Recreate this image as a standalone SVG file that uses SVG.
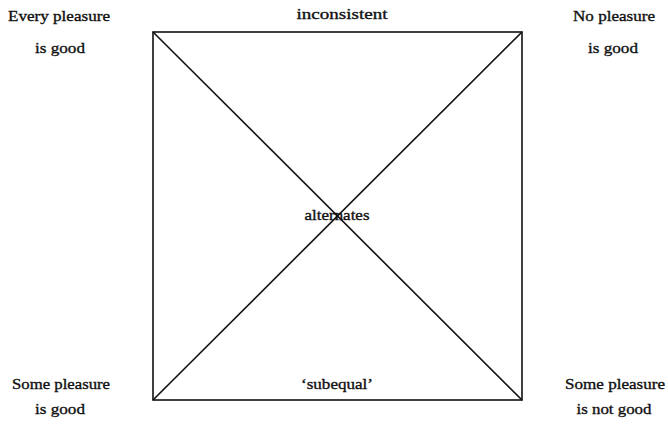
<svg xmlns="http://www.w3.org/2000/svg" width="668" height="425" viewBox="0 0 668 425">
<style>
text{font-family:"Liberation Serif","Times New Roman",serif;font-size:15px;fill:#111;stroke:#111;stroke-width:0.35;text-anchor:middle}
.ln{stroke:#111;stroke-width:1.6;fill:none}
</style>
<rect width="668" height="425" fill="#fff"/>
<g id="connectors">
<rect class="ln" x="153" y="32" width="369" height="368"/>
<line class="ln" x1="153" y1="32" x2="522" y2="400"/>
<line class="ln" x1="522" y1="32" x2="153" y2="400"/>
</g>
<g id="n-every"><text x="59" y="21" textLength="102" lengthAdjust="spacingAndGlyphs">Every pleasure</text><text x="60" y="53" textLength="50" lengthAdjust="spacingAndGlyphs">is good</text></g>
<g id="n-no"><text x="614" y="21" textLength="82" lengthAdjust="spacingAndGlyphs">No pleasure</text><text x="613" y="53" textLength="50" lengthAdjust="spacingAndGlyphs">is good</text></g>
<g id="n-some"><text x="61" y="389" textLength="98" lengthAdjust="spacingAndGlyphs">Some pleasure</text><text x="60" y="414" textLength="50" lengthAdjust="spacingAndGlyphs">is good</text></g>
<g id="n-somenot"><text x="615" y="389" textLength="100" lengthAdjust="spacingAndGlyphs">Some pleasure</text><text x="614" y="414" textLength="75" lengthAdjust="spacingAndGlyphs">is not good</text></g>
<g id="l-inconsistent"><text x="342" y="19" textLength="91" lengthAdjust="spacingAndGlyphs">inconsistent</text></g>
<g id="l-alternates"><text x="337" y="220" textLength="65" lengthAdjust="spacingAndGlyphs">alternates</text></g>
<g id="l-subequal"><text x="337" y="389" textLength="72" lengthAdjust="spacingAndGlyphs">‘subequal’</text></g>
</svg>
